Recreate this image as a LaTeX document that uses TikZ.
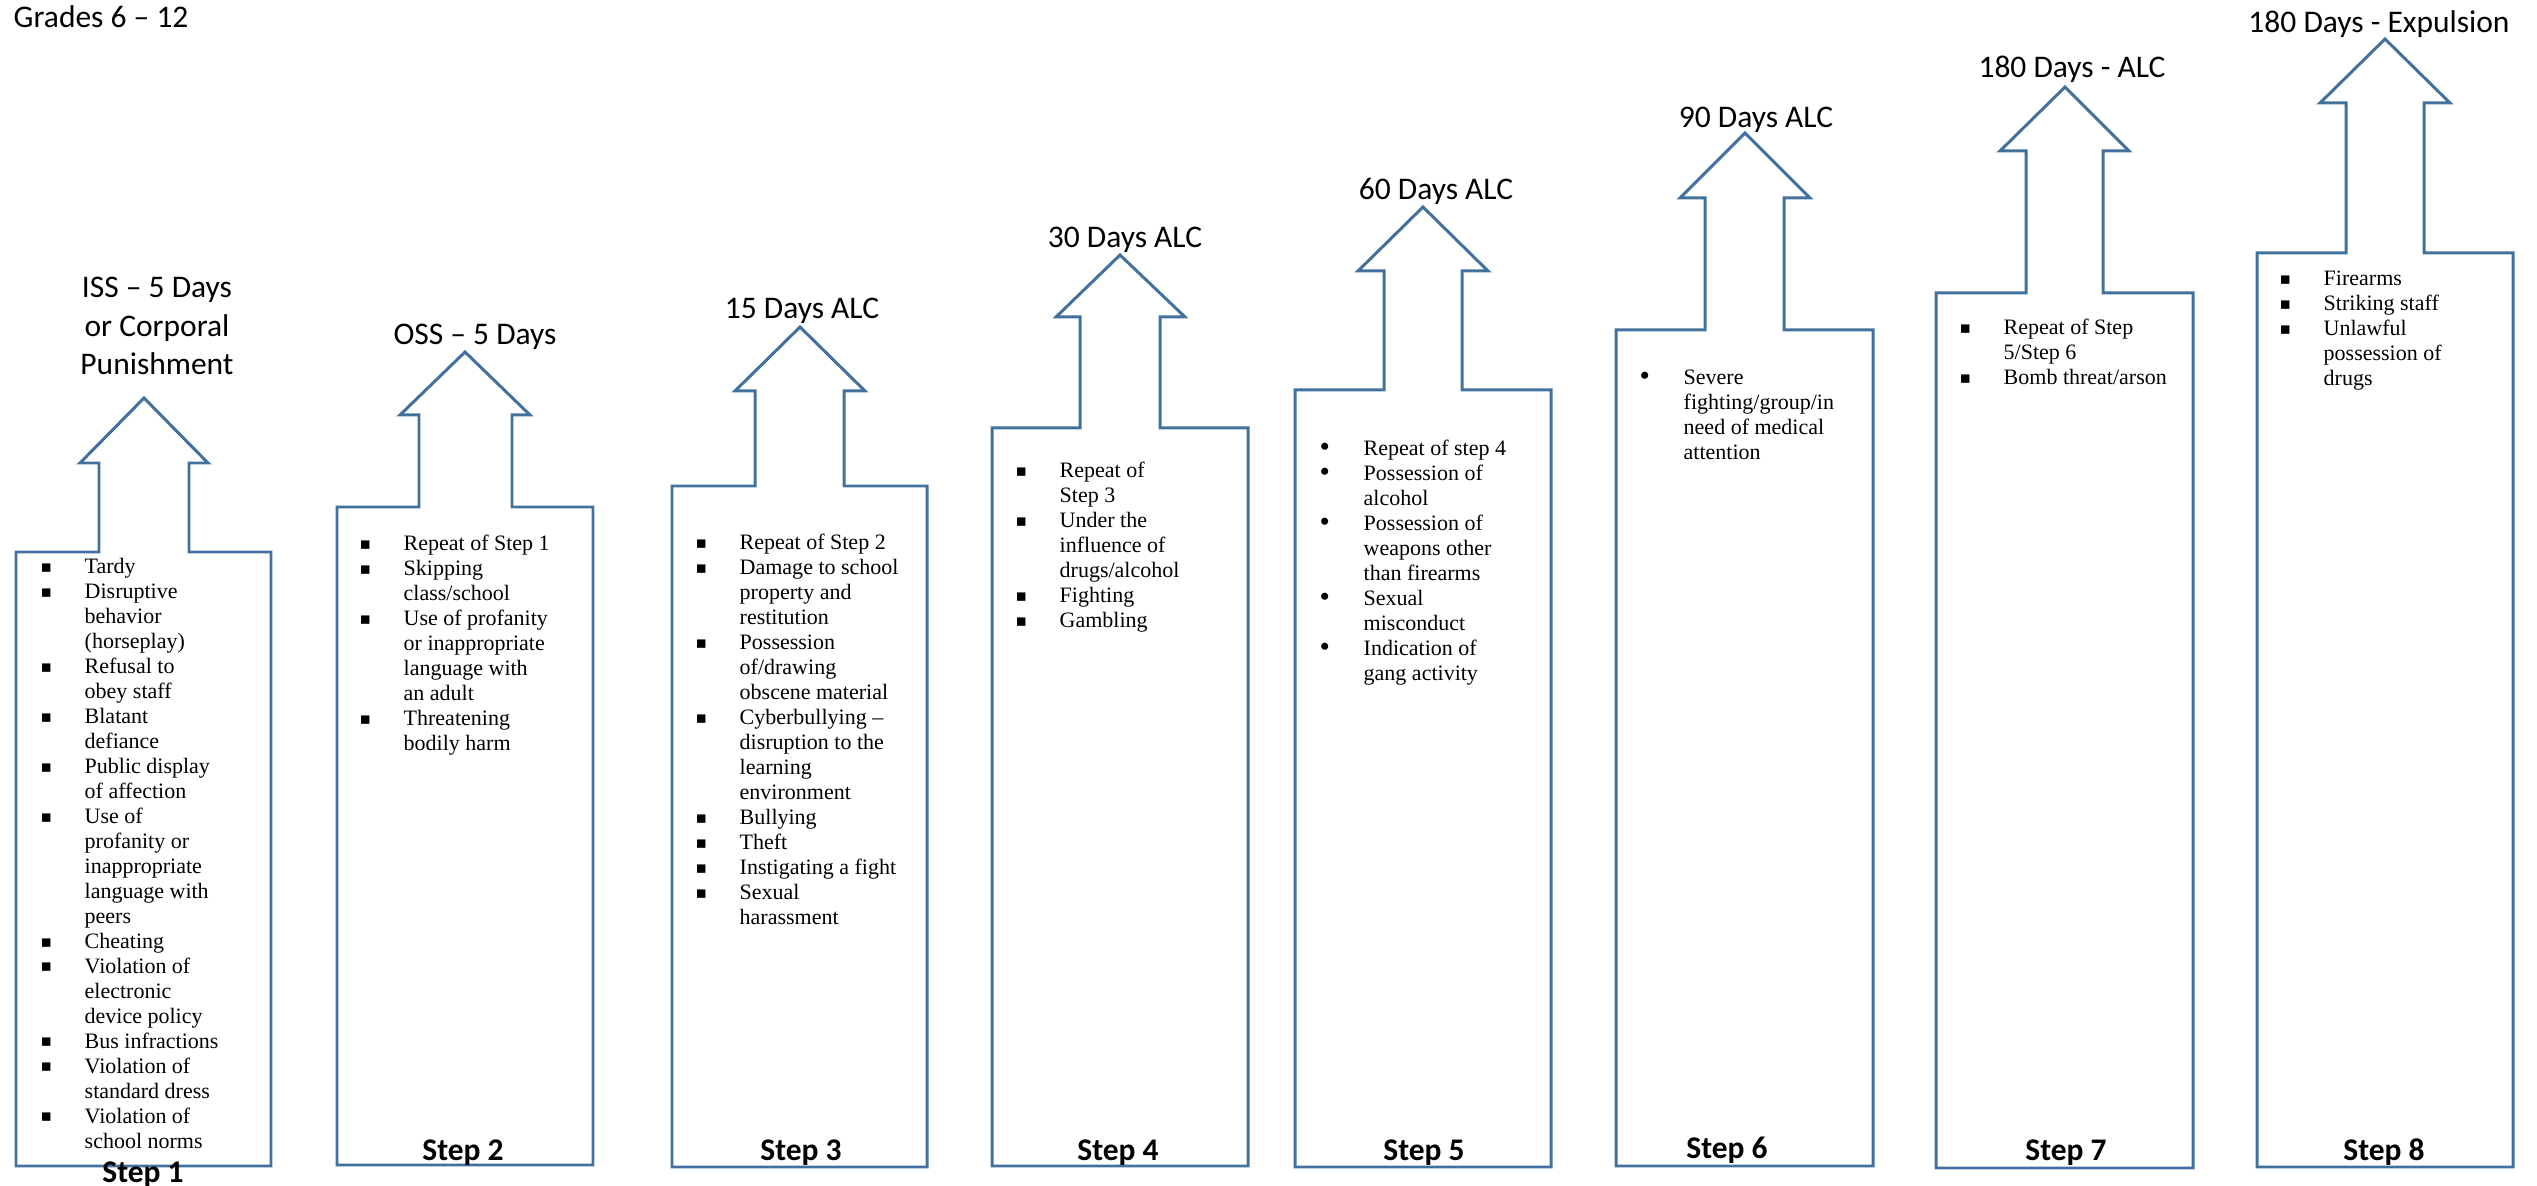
\documentclass[tikz,border=0pt]{standalone}
\usepackage{fontspec}
\setmainfont{Liberation Serif}
\newfontfamily\calibri{Carlito}
\newfontfamily\symfont{DejaVu Sans}
\usepackage{tikz}
\definecolor{stepblue}{RGB}{65,113,156}
\newcommand{\sqbul}{\strut\llap{\makebox[4.4mm][l]{\raisebox{0.15ex}{\symfont\fontsize{4.8}{5}\selectfont\char"25AA}}}}
\newcommand{\rdbul}{\strut\llap{\makebox[4.4mm][l]{\raisebox{-0.1ex}{\fontsize{8.4}{7}\selectfont\textbullet}}}}

\begin{document}
\begin{tikzpicture}[x=0.1mm, y=-0.1mm,
	arrowline/.style={draw=stepblue, line width=0.85pt, line join=miter},
	penaltytext/.style={font=\calibri\fontsize{8.96}{10.95}\selectfont, align=center, inner sep=0pt},
	itemlist/.style={font=\fontsize{6.26}{7.11}\selectfont, align=left, anchor=north west, inner sep=0pt},
	steptext/.style={font=\calibri\bfseries\fontsize{8.96}{10.95}\selectfont, anchor=base, inner sep=0pt}]
	
	\useasboundingbox (0,0) rectangle (2537,1186);
	
	% Arrows
	\draw[arrowline] (16,1166) -- (16,552) -- (99,552) -- (99,463) -- (80,463) -- (144,398) -- (208,463) -- (189,463) -- (189,552) -- (271,552) -- (271,1166) -- cycle;
	\draw[arrowline] (337,1165) -- (337,507) -- (419,507) -- (419,415) -- (400,415) -- (465,352) -- (530,415) -- (512,415) -- (512,507) -- (593,507) -- (593,1165) -- cycle;
	\draw[arrowline] (672,1167) -- (672,486) -- (755,486) -- (755,391) -- (735,391) -- (800,327) -- (865,391) -- (844,391) -- (844,486) -- (927,486) -- (927,1167) -- cycle;
	\draw[arrowline] (992,1166) -- (992,428) -- (1080,428) -- (1080,317) -- (1056,317) -- (1120,255) -- (1185,317) -- (1160,317) -- (1160,428) -- (1248,428) -- (1248,1166) -- cycle;
	\draw[arrowline] (1295,1167) -- (1295,390) -- (1384,390) -- (1384,271) -- (1358,271) -- (1423,207) -- (1488,271) -- (1462,271) -- (1462,390) -- (1551,390) -- (1551,1167) -- cycle;
	\draw[arrowline] (1616,1166) -- (1616,330) -- (1705,330) -- (1705,198) -- (1680,198) -- (1745,133) -- (1810,198) -- (1784,198) -- (1784,330) -- (1873,330) -- (1873,1166) -- cycle;
	\draw[arrowline] (1936,1168) -- (1936,293) -- (2026,293) -- (2026,151) -- (2000,151) -- (2065,87) -- (2129,151) -- (2103,151) -- (2103,293) -- (2193,293) -- (2193,1168) -- cycle;
	\draw[arrowline] (2257,1167) -- (2257,253) -- (2346,253) -- (2346,103) -- (2320,103) -- (2385,39) -- (2450,103) -- (2424,103) -- (2424,253) -- (2513,253) -- (2513,1167) -- cycle;
	
	% Titles
	\node[penaltytext, anchor=base west] (G) at (13,28) {Grades 6 – 12};
	\node[penaltytext] (T1) at (157,326) {ISS – 5 Days\\or Corporal\\Punishment};
	\node[penaltytext, anchor=base] (T2) at (475,345) {OSS – 5 Days};
	\node[penaltytext, anchor=base] (T3) at (802,319) {15 Days ALC};
	\node[penaltytext, anchor=base] (T4) at (1125,248) {30 Days ALC};
	\node[penaltytext, anchor=base] (T5) at (1436,200) {60 Days ALC};
	\node[penaltytext, anchor=base] (T6) at (1756,128) {90 Days ALC};
	\node[penaltytext, anchor=base] (T7) at (2072,78) {180 Days - ALC};
	\node[penaltytext, anchor=base] (T8) at (2379,33) {180 Days - Expulsion};
	
	% Lists
	\node[itemlist] (L1) at (84,555.5) {\sqbul Tardy\\ \sqbul Disruptive\\ behavior\\ (horseplay)\\ \sqbul Refusal to\\ obey staff\\ \sqbul Blatant\\ defiance\\ \sqbul Public display\\ of affection\\ \sqbul Use of\\ profanity or\\ inappropriate\\ language with\\ peers\\ \sqbul Cheating\\ \sqbul Violation of\\ electronic\\ device policy\\ \sqbul Bus infractions\\ \sqbul Violation of\\ standard dress\\ \sqbul Violation of\\ school norms};
	\node[itemlist] (L2) at (403,532.5) {\sqbul Repeat of Step 1\\ \sqbul Skipping\\ class/school\\ \sqbul Use of profanity\\ or inappropriate\\ language with\\ an adult\\ \sqbul Threatening\\ bodily harm};
	\node[itemlist] (L3) at (739,531.5) {\sqbul Repeat of Step 2\\ \sqbul Damage to school\\ property and\\ restitution\\ \sqbul Possession\\ of/drawing\\ obscene material\\ \sqbul Cyberbullying –\\ disruption to the\\ learning\\ environment\\ \sqbul Bullying\\ \sqbul Theft\\ \sqbul Instigating a fight\\ \sqbul Sexual\\ harassment};
	\node[itemlist] (L4) at (1059,459.5) {\sqbul Repeat of\\ Step 3\\ \sqbul Under the\\ influence of\\ drugs/alcohol\\ \sqbul Fighting\\ \sqbul Gambling};
	\node[itemlist] (L5) at (1363,437.5) {\rdbul Repeat of step 4\\ \rdbul Possession of\\ alcohol\\ \rdbul Possession of\\ weapons other\\ than firearms\\ \rdbul Sexual\\ misconduct\\ \rdbul Indication of\\ gang activity};
	\node[itemlist] (L6) at (1683,366.5) {\rdbul Severe\\ fighting/group/in\\ need of medical\\ attention};
	\node[itemlist] (L7) at (2003,316.5) {\sqbul Repeat of Step\\ 5/Step 6\\ \sqbul Bomb threat/arson};
	\node[itemlist] (L8) at (2323,267.5) {\sqbul Firearms\\ \sqbul Striking staff\\ \sqbul Unlawful\\ possession of\\ drugs};
	
	% Step labels
	\node[steptext] (S1) at (143,1182) {Step 1};
	\node[steptext] (S2) at (463,1160) {Step 2};
	\node[steptext] (S3) at (801,1160) {Step 3};
	\node[steptext] (S4) at (1118,1160) {Step 4};
	\node[steptext] (S5) at (1424,1160) {Step 5};
	\node[steptext] (S6) at (1727,1158) {Step 6};
	\node[steptext] (S7) at (2066,1160) {Step 7};
	\node[steptext] (S8) at (2384,1160) {Step 8};
	
\end{tikzpicture}
\end{document}
